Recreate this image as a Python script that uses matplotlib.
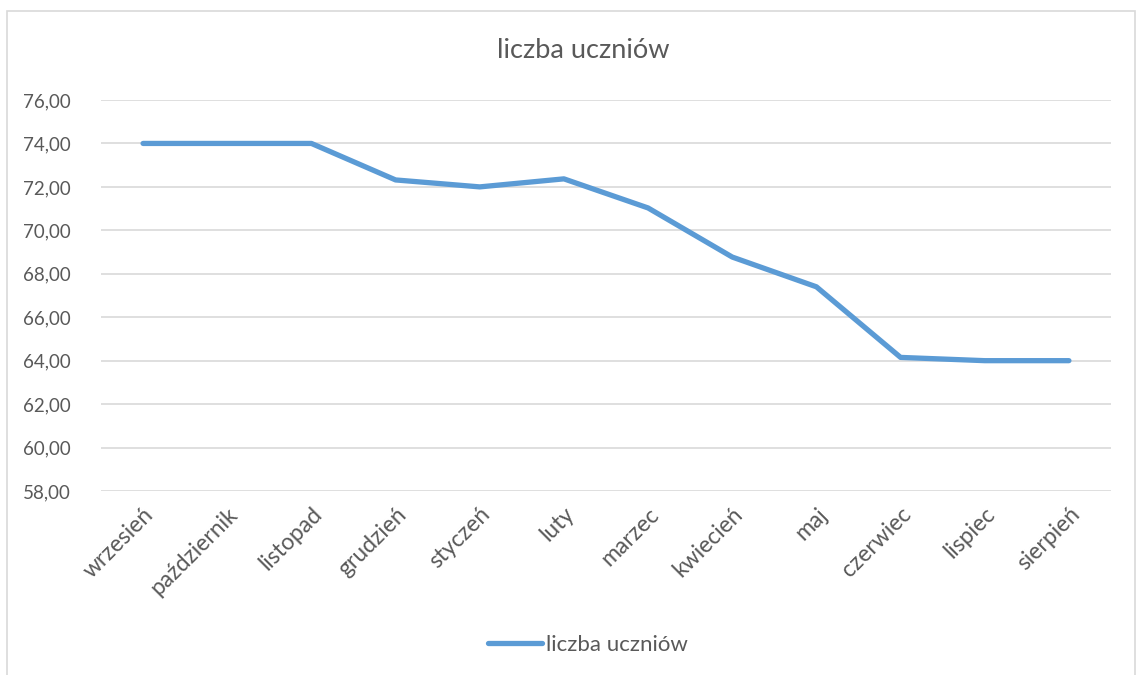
import matplotlib
matplotlib.use("Agg")
from matplotlib import pyplot as plt
from matplotlib.patches import Rectangle
from matplotlib.lines import Line2D


months = ["wrzesień", "październik", "listopad", "grudzień", "styczeń", "luty",
          "marzec", "kwiecień", "maj", "czerwiec", "lispiec", "sierpień"]
students = [74.0, 74.0, 74.0, 72.32, 72.0, 72.37, 71.03, 68.77, 67.4, 64.15, 64.0, 64.0]
y_ticks = [58, 60, 62, 64, 66, 68, 70, 72, 74, 76]

line_color = "#5B9BD5"
text_color = "#595959"
grid_color = "#D9D9D9"

plt.rcParams["font.family"] = ["Lato", "DejaVu Sans"]

fig = plt.figure(figsize=(11.45, 6.75), dpi=100)

# chart frame (Excel style)
fig.patches.append(Rectangle((7 / 1145, -0.01), 1128 / 1145, 1 - 11 / 675 + 0.01,
                             transform=fig.transFigure, fill=False,
                             edgecolor=grid_color, linewidth=1.2))

ax = fig.add_axes([101 / 1145, 1 - 491 / 675, 1010 / 1145, 391 / 675])
x = list(range(len(months)))
ax.plot(x, students, color=line_color, linewidth=3.8, solid_capstyle="round",
        solid_joinstyle="round", label="liczba uczniów", zorder=3)

ax.set_xlim(-0.5, len(months) - 0.5)
ax.set_ylim(58, 76)
ax.set_yticks(y_ticks)
ax.set_yticklabels([f"{v:.2f}".replace(".", ",") for v in y_ticks],
                   fontsize=13.5, color=text_color)
ax.set_xticks(x)
ax.set_xticklabels(months, rotation=45, ha="right", rotation_mode="anchor",
                   fontsize=16.5, color=text_color)
ax.tick_params(axis="both", length=0)
ax.tick_params(axis="y", pad=22)
ax.tick_params(axis="x", pad=9)
ax.grid(axis="y", color=grid_color, linewidth=1.2)
ax.set_axisbelow(True)
for s in ax.spines.values():
    s.set_visible(False)

fig.text(583 / 1145, 1 - 50 / 675, "liczba uczniów", ha="center", va="center",
         fontsize=19.5, color=text_color)

handle = Line2D([], [], color=line_color, linewidth=3.8, solid_capstyle="round")
fig.legend([handle], ["liczba uczniów"], loc="center", bbox_to_anchor=(588 / 1145, 1 - 645 / 675),
           frameon=False, fontsize=16, labelcolor=text_color, handlelength=2.4,
           handletextpad=0.2)

fig.savefig("out.png", dpi=100)
